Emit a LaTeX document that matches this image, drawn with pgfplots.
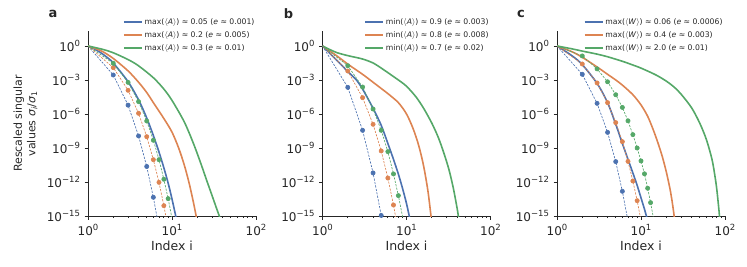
\documentclass[border=0pt]{standalone}
\usepackage{pgfplots}
\pgfplotsset{compat=1.18}
\usepackage{fontspec}
\setmainfont{DejaVu Sans}
\definecolor{sbblue}{HTML}{4C72B0}
\definecolor{sborange}{HTML}{DD8452}
\definecolor{sbgreen}{HTML}{55A868}
\definecolor{axc}{HTML}{262626}
\newcommand{\sps}[1]{\raisebox{0.45em}{\fontsize{8.5}{9}\selectfont #1}}
\tikzset{plab/.style={font=\bfseries\fontsize{13}{14}\selectfont, text=axc}}
\pgfplotsset{
 panel/.style={
  scale only axis, width=168pt, height=185pt,
  xmin=1, xmax=100, ymin=1e-15, ymax=21,
  clip mode=individual,
  axis lines*=left, axis line style={axc, line width=0.8pt, -},
  tick align=outside, major tick length=3.5pt, minor tick length=2pt,
  every tick/.style={axc, line width=0.8pt},
  xtick={1,10,100},
  xticklabels={10\sps{0},10\sps{1},10\sps{2}},
  minor xtick={2,3,4,5,6,7,8,9,20,30,40,50,60,70,80,90},
  ytick={1e-15,1e-12,1e-9,1e-6,1e-3,1},
  yticklabels={10\sps{−15},10\sps{−12},10\sps{−9},10\sps{−6},10\sps{−3},10\sps{0}},
  yminorticks=false,
  tick label style={font=\fontsize{12}{14}\selectfont, text=axc},
  xticklabel style={yshift=-1pt},
  yticklabel style={xshift=-1pt},
  xlabel={Index i},
  xlabel style={font=\fontsize{12.5}{14}\selectfont, text=axc, yshift=2pt},
  legend style={draw=none, fill=none, font=\fontsize{7.7}{8.7}\selectfont, text=axc,
    anchor=north west, legend cell align=left, row sep=1.3pt},
  legend image code/.code={\draw[##1] (0pt,0pt) -- (18pt,0pt);},
 },
 sline/.style={line width=1.6pt, smooth},
 dline/.style={line width=0.65pt, dash pattern=on 2.2pt off 1.3pt, mark=*, mark size=2.1pt, mark phase=2, mark options={solid}, forget plot},
}
\begin{document}
\begin{tikzpicture}
\path[use as bounding box] (0,0) rectangle (747pt,267pt);
% ---------------- panel a
\begin{loglogaxis}[panel, at={(88pt,51pt)}, anchor=south west,
  ylabel={Rescaled singular\\values \textit{σ}\textsubscript{\textit{i}}/\textit{σ}\textsubscript{1}},
  ylabel style={align=center, font=\fontsize{11}{13.5}\selectfont, text=axc, at={(axis description cs:-0.28,0.5)}},
  legend style={at={(axis description cs:0.19,1.09)}}]
\addplot[sline, sbblue] coordinates {(1,1)(1.25,4.47e-1)(1.5,1.91e-1)(1.75,7.94e-2)(2,3.16e-2)(3,7.08e-4)(4,1.78e-5)(5,4.47e-7)(6,1.26e-8)(7,4.47e-10)(8,1.78e-11)(9,7.94e-13)(10,3.16e-14)(11,1.26e-15)(11.5,2.51e-16)};
\addlegendentry{max($\langle$\textit{A}$\rangle$) ≈ 0.05 (\textit{e} ≈ 0.001)}
\addplot[sline, sborange] coordinates {(1,1)(1.25,5.62e-1)(1.5,3.16e-1)(2,7.94e-2)(3,6.31e-3)(4,6.31e-4)(5,7.94e-5)(6,1e-5)(8,3.98e-7)(10,2.51e-8)(12,1e-9)(14,3.16e-11)(16,7.94e-13)(18,1.58e-14)(19.5,7.94e-16)(20.5,1e-16)};
\addlegendentry{max($\langle$\textit{A}$\rangle$) ≈ 0.2 (\textit{e} ≈ 0.005)}
\addplot[sline, sbgreen] coordinates {(1,1)(1.5,5.01e-1)(2,2.51e-1)(3,6.31e-2)(4,1.78e-2)(6,1.58e-3)(8,1.58e-4)(10,1.58e-5)(14,2.00e-7)(18,2.51e-9)(22,4.47e-11)(26,1.26e-12)(30,6.31e-14)(34,4.47e-15)(37,7.94e-16)};
\addlegendentry{max($\langle$\textit{A}$\rangle$) ≈ 0.3 (\textit{e} ≈ 0.01)}
\addplot[dline, sbblue] coordinates {(1,1)(2,2.75e-3)(3,6.03e-6)(4,1.15e-8)(5,2.34e-11)(6,4.47e-14)(7,8.91e-17)};
\addplot[dline, sborange] coordinates {(1,1)(2,1.23e-2)(3,1.23e-4)(4,1.15e-6)(5,1e-8)(6,9.33e-11)(7,9.33e-13)(8,8.13e-15)(9,7.94e-17)};
\addplot[dline, sbgreen] coordinates {(1,1)(2,2.95e-2)(3,6.17e-4)(4,1.23e-5)(5,2.40e-7)(6,4.79e-9)(7,9.33e-11)(8,1.74e-12)(9,3.39e-14)(10,6.31e-16)};
\node[plab] at (axis description cs:-0.208,1.092) {a};
\end{loglogaxis}
% ---------------- panel b
\begin{loglogaxis}[panel, at={(322.5pt,51pt)}, anchor=south west,
  legend style={at={(axis description cs:0.23,1.09)}}]
\addplot[sline, sbblue] coordinates {(1,1)(1.5,5.01e-2)(2,5.62e-3)(2.5,1.12e-3)(3,1.58e-4)(4,3.16e-6)(5,1e-7)(6,2.51e-9)(7,1e-10)(8,5.01e-12)(9,2.51e-13)(10,1.26e-14)(11,5.01e-16)(11.5,1e-16)};
\addlegendentry{min($\langle$\textit{A}$\rangle$) ≈ 0.9 (\textit{e} ≈ 0.003)}
\addplot[sline, sborange] coordinates {(1,1)(1.5,1.26e-1)(2,2.51e-2)(3,3.16e-3)(4,6.31e-4)(5,1.78e-4)(6,6.31e-5)(8,1e-5)(10,1e-6)(12,5.01e-8)(14,1.58e-9)(16,2.51e-11)(18,1.58e-13)(19.5,1.26e-15)(20.5,5.01e-17)};
\addlegendentry{min($\langle$\textit{A}$\rangle$) ≈ 0.8 (\textit{e} ≈ 0.008)}
\addplot[sline, sbgreen] coordinates {(1,1)(1.25,4.47e-1)(1.5,2.51e-1)(2,1.41e-1)(3,7.08e-2)(4,3.16e-2)(5,1.12e-2)(6,4.47e-3)(7,2.00e-3)(8,1e-3)(10,2.82e-4)(13,3.16e-5)(16,3.16e-6)(20,1.58e-7)(24,7.94e-9)(28,3.16e-10)(32,1.26e-11)(36,3.16e-13)(40,5.01e-15)(42,5.01e-16)(44,5.01e-17)};
\addlegendentry{min($\langle$\textit{A}$\rangle$) ≈ 0.7 (\textit{e} ≈ 0.02)}
\addplot[dline, sbblue] coordinates {(1,1)(2,2.24e-4)(3,3.63e-8)(4,6.31e-12)(5,1.12e-15)(6,2.00e-19)};
\addplot[dline, sborange] coordinates {(1,1)(2,6.17e-3)(3,2.75e-5)(4,1.23e-7)(5,5.50e-10)(6,2.24e-12)(7,9.33e-15)(8,3.98e-17)};
\addplot[dline, sbgreen] coordinates {(1,1)(2,1.82e-2)(3,2.40e-4)(4,2.75e-6)(5,3.63e-8)(6,4.79e-10)(7,5.13e-12)(8,6.31e-14)(9,7.94e-16)};
\node[plab] at (axis description cs:-0.202,1.092) {b};
\end{loglogaxis}
% ---------------- panel c
\begin{loglogaxis}[panel, at={(557pt,51pt)}, anchor=south west,
  legend style={at={(axis description cs:0.14,1.09)}}]
\addplot[sline, sbblue] coordinates {(1,1)(1.5,1.41e-1)(2,2.24e-2)(3,5.01e-4)(4,1e-5)(5,1.26e-7)(6,2.51e-9)(7,1e-10)(8,6.31e-12)(9,5.01e-13)(10,3.98e-14)(11,3.98e-15)(12,3.98e-16)};
\addlegendentry{max($\langle$\textit{W}$\rangle$) ≈ 0.06 (\textit{e} ≈ 0.0006)}
\addplot[sline, sborange] coordinates {(1,1)(1.5,3.16e-1)(2,1e-1)(3,1.41e-2)(4,3.16e-3)(5,1e-3)(6,3.55e-4)(8,5.01e-5)(10,6.31e-6)(12,6.31e-7)(14,3.98e-8)(16,2.51e-9)(18,1.58e-10)(20,7.94e-12)(22,3.16e-13)(23,5.01e-14)(24,6.31e-15)(25,6.31e-16)(26,5.01e-17)};
\addlegendentry{max($\langle$\textit{W}$\rangle$) ≈ 0.4 (\textit{e} ≈ 0.003)}
\addplot[sline, sbgreen] coordinates {(1,1)(1.5,5.62e-1)(2,3.55e-1)(3,1.91e-1)(4,1.12e-1)(6,4.47e-2)(8,2.09e-2)(10,1.12e-2)(15,2.82e-3)(20,7.94e-4)(25,2.24e-4)(30,5.62e-5)(40,3.55e-6)(50,1.58e-7)(60,5.62e-9)(70,1e-10)(76,3.16e-12)(80,2.00e-13)(85,2.51e-15)(88,1e-16)};
\addlegendentry{max($\langle$\textit{W}$\rangle$) ≈ 2.0 (\textit{e} ≈ 0.01)}
\addplot[dline, sbblue] coordinates {(1,1)(2,3.16e-3)(3,8.71e-6)(4,2.40e-8)(5,6.31e-11)(6,1.51e-13)(7,3.55e-16)};
\addplot[dline, sborange] coordinates {(1,1)(2,2.57e-2)(3,5.50e-4)(4,1e-5)(5,1.74e-7)(6,3.63e-9)(7,6.61e-11)(8,1.23e-12)(9,2.24e-14)(10,3.98e-16)};
\addplot[dline, sbgreen] coordinates {(1,1)(2,1.32e-1)(3,9.55e-3)(4,6.92e-4)(5,5.01e-5)(6,3.80e-6)(7,2.51e-7)(8,1.51e-8)(9,1e-9)(10,7.24e-11)(11,5.25e-12)(12,2.82e-13)(13,1.51e-14)(14,7.94e-16)};
\node[plab] at (axis description cs:-0.214,1.092) {c};
\end{loglogaxis}
\end{tikzpicture}
\end{document}
